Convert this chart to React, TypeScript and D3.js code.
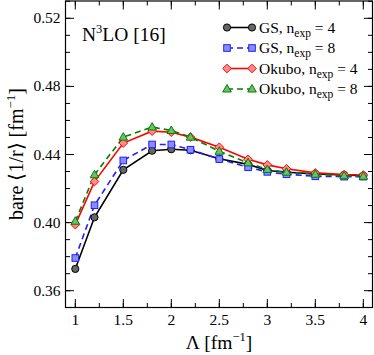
import React from 'react'
import * as d3 from 'd3'

const lambdas = [1.0, 1.2, 1.5, 1.8, 2.0, 2.2, 2.5, 2.8, 3.0, 3.2, 3.5, 3.8, 4.0]
const gsN4 = [0.3728, 0.4031, 0.431, 0.4422, 0.4431, 0.4425, 0.4375, 0.4342, 0.4306, 0.4296, 0.4286, 0.428, 0.4275]
const gsN8 = [0.3792, 0.4102, 0.4365, 0.4459, 0.4459, 0.4428, 0.4373, 0.4325, 0.4298, 0.4284, 0.4272, 0.427, 0.427]
const okN4 = [0.3988, 0.4241, 0.4467, 0.4537, 0.4531, 0.4502, 0.4443, 0.4372, 0.4339, 0.4316, 0.4292, 0.4282, 0.428]
const okN8 = [0.4008, 0.4281, 0.4502, 0.4561, 0.4541, 0.4502, 0.4419, 0.4351, 0.4312, 0.4296, 0.4284, 0.4275, 0.4272]
const xTicks = [1, 1.5, 2, 2.5, 3, 3.5, 4]
const yTicks = [0.36, 0.40, 0.44, 0.48, 0.52]

const series = [
  {label: 'GS', n: '4', values: gsN4, stroke: '#000000', fill: '#666666', dash: '', shape: 'circle'},
  {label: 'GS', n: '8', values: gsN8, stroke: '#1f1fff', fill: '#8c8cff', dash: '6,4', shape: 'square'},
  {label: 'Okubo', n: '4', values: okN4, stroke: '#ff0000', fill: '#ff8c8c', dash: '', shape: 'diamond'},
  {label: 'Okubo', n: '8', values: okN8, stroke: '#008000', fill: '#6cbf6c', dash: '6,4', shape: 'triangle'},
]

const font = '"Liberation Serif", "Times New Roman", serif'

// little symbol drawn at each data point
const Marker = ({shape, x, y, stroke, fill}) => {
  if (shape === 'circle') return <circle cx={x} cy={y} r={3.6} fill={fill} stroke={stroke} strokeWidth={1}/>
  if (shape === 'square') return <rect x={x - 3.3} y={y - 3.3} width={6.6} height={6.6} fill={fill} stroke={stroke} strokeWidth={1}/>
  if (shape === 'diamond') return <path d={`M${x},${y - 4.3}L${x + 4.3},${y}L${x},${y + 4.3}L${x - 4.3},${y}Z`} fill={fill} stroke={stroke} strokeWidth={1}/>
  return <path d={`M${x},${y - 4.5}L${x + 4.3},${y + 3}L${x - 4.3},${y + 3}Z`} fill={fill} stroke={stroke} strokeWidth={1}/>
}

const App = () => {
  const left = 65.5, right = 372.5, top = 1, bottom = 307.5
  const x = d3.scaleLinear().domain([1, 4]).range([75.3, 363.3])
  const y = d3.scaleLinear().domain([0.36, 0.52]).range([290.7, 18.3])

  const line = d3.line<number>()
    .x((d, i) => x(lambdas[i]))
    .y(d => y(d))

  const xMinor = d3.range(1, 4.01, 0.25)
  const yMinor = d3.range(0.35, 0.531, 0.01).filter(v => y(v) > top && y(v) < bottom)

  return (
    <svg width={374} height={355} style={{position: 'absolute', left: 0, top: 0}} fontFamily={font}>
      <rect x={0} y={0} width={374} height={355} fill="#fff"/>
      {/* minor ticks */}
      {xMinor.map((t, i) => (
        <g key={'xm' + i}>
          <line x1={x(t)} x2={x(t)} y1={bottom} y2={bottom - 4.5} stroke="#000"/>
          <line x1={x(t)} x2={x(t)} y1={top} y2={top + 4.5} stroke="#000"/>
        </g>
      ))}
      {yMinor.map((t, i) => (
        <g key={'ym' + i}>
          <line x1={left} x2={left + 4.5} y1={y(t)} y2={y(t)} stroke="#000"/>
          <line x1={right} x2={right - 4.5} y1={y(t)} y2={y(t)} stroke="#000"/>
        </g>
      ))}
      {/* major ticks */}
      {xTicks.map(t => (
        <g key={'x' + t}>
          <line x1={x(t)} x2={x(t)} y1={bottom} y2={bottom - 8.5} stroke="#000"/>
          <line x1={x(t)} x2={x(t)} y1={top} y2={top + 8.5} stroke="#000"/>
          <text x={x(t)} y={324.5} textAnchor="middle" fontSize={15.5}>{t}</text>
        </g>
      ))}
      {yTicks.map(t => (
        <g key={'y' + t}>
          <line x1={left} x2={left + 8.5} y1={y(t)} y2={y(t)} stroke="#000"/>
          <line x1={right} x2={right - 8.5} y1={y(t)} y2={y(t)} stroke="#000"/>
          <text x={60.5} y={y(t) + 5} textAnchor="end" fontSize={15.5}>{t.toFixed(2)}</text>
        </g>
      ))}

      {series.map((s, i) => (
        <path key={'l' + i} d={line(s.values)} fill="none" stroke={s.stroke} strokeWidth={1.6} strokeDasharray={s.dash}/>
      ))}
      {series.map((s, i) => s.values.map((v, j) => (
        <Marker key={'m' + i + '-' + j} shape={s.shape} x={x(lambdas[j])} y={y(v)} stroke={s.stroke} fill={s.fill}/>
      )))}

      <rect x={left} y={top} width={right - left} height={bottom - top} fill="none" stroke="#000" strokeWidth={1.2}/>

      {/* annotation */}
      <text x={82} y={40.5} fontSize={19.5}>N<tspan dy={-8} fontSize={12.5}>3</tspan><tspan dy={8}>LO [16]</tspan></text>

      {/* legend */}
      {series.map((s, i) => {
        const ly = 27.5 + i * 20.5
        return (
          <g key={'lg' + i}>
            <line x1={227} x2={252} y1={ly} y2={ly} stroke={s.stroke} strokeWidth={1.6} strokeDasharray={s.dash}/>
            <Marker shape={s.shape} x={227} y={ly} stroke={s.stroke} fill={s.fill}/>
            <Marker shape={s.shape} x={252} y={ly} stroke={s.stroke} fill={s.fill}/>
            <text x={259} y={ly + 5} fontSize={15.5}>{s.label}, n<tspan dy={4} fontSize={11.5}>exp</tspan><tspan dy={-4}> = {s.n}</tspan></text>
          </g>
        )
      })}

      {/* axis labels */}
      <text x={219} y={349} textAnchor="middle" fontSize={19.5}>Λ [fm<tspan dy={-8} fontSize={12.5}>−1</tspan><tspan dy={8}>]</tspan></text>
      <text transform={`translate(23,154) rotate(-90)`} textAnchor="middle" fontSize={20}>
        bare ⟨1/r⟩ [fm<tspan dy={-8} fontSize={13}>−1</tspan><tspan dy={8}>]</tspan>
      </text>
    </svg>
  )
}

export default App
